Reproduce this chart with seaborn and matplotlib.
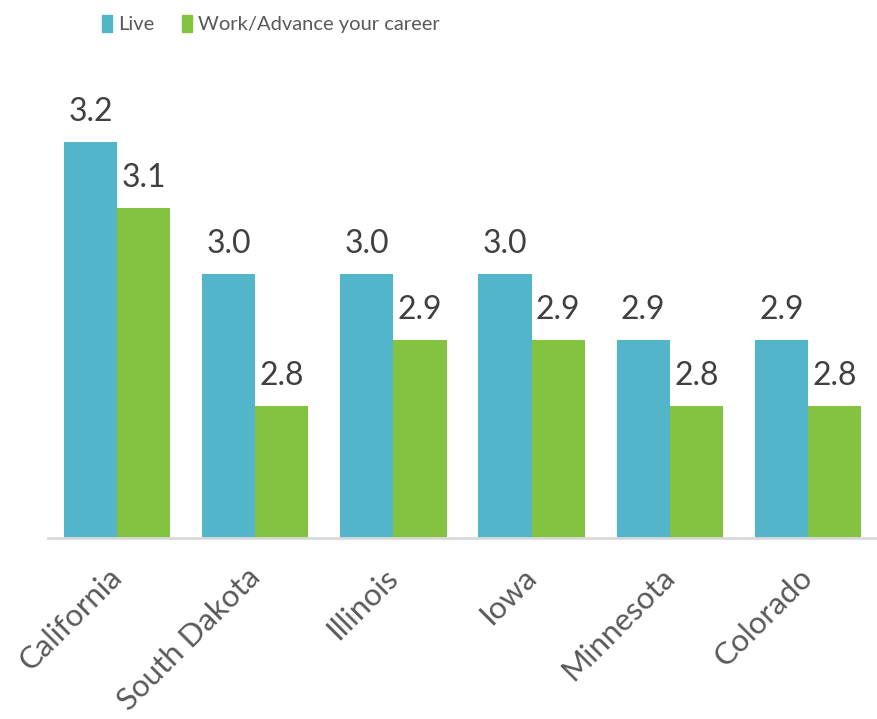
import matplotlib
matplotlib.use("Agg")
import matplotlib.pyplot as plt
import seaborn as sns
import pandas as pd

states = ["California", "South Dakota", "Illinois", "Iowa", "Minnesota", "Colorado"]
live = [3.2, 3.0, 3.0, 3.0, 2.9, 2.9]
work = [3.1, 2.8, 2.9, 2.9, 2.8, 2.8]
series = ["Live", "Work/Advance your career"]
colors = ["#52B5CA", "#84C341"]

df = pd.DataFrame({
    "State": states * 2,
    "Score": live + work,
    "Series": [series[0]] * len(states) + [series[1]] * len(states),
})

sns.set_theme(style="white")
plt.rcParams["font.family"] = ["Lato", "DejaVu Sans"]
text_color = "#595959"

fig = plt.figure(figsize=(8.77, 7.19), dpi=100)
ax = fig.add_axes([48 / 877, 1 - 538 / 719, 1 - 48 / 877, (538 - 10) / 719])

sns.barplot(data=df, x="State", y="Score", hue="Series", order=states,
            hue_order=series, palette=colors, width=0.77, ax=ax,
            linewidth=0, saturation=1, legend=False)

ax.set_ylim(2.6, 3.4)
ax.set_xlim(-0.5, 5.5)
ax.set_xlabel("")
ax.set_ylabel("")
ax.set_yticks([])

for c in ax.containers:
    ax.bar_label(c, fmt="%.1f", padding=11, fontsize=23, color="#404040")

for s in ["top", "right", "left"]:
    ax.spines[s].set_visible(False)
ax.spines["bottom"].set_color("#D9D9D9")
ax.spines["bottom"].set_linewidth(2)

ax.tick_params(axis="x", length=0, pad=25)
ax.set_xticks(range(len(states)))
ax.set_xticklabels(states, rotation=45, ha="right", va="center",
                   rotation_mode="anchor", fontsize=22.5, color=text_color)

handles = [plt.Rectangle((0, 0), 1, 1, color=col) for col in colors]
fig.legend(handles, series, loc="upper center", bbox_to_anchor=(271 / 877, 1.0),
           ncol=2, frameon=False, fontsize=14.5, labelcolor=text_color,
           handlelength=0.5, handleheight=0.9, handletextpad=0.3,
           columnspacing=1.4, borderaxespad=0.35)

fig.savefig("out.png", dpi=100)
